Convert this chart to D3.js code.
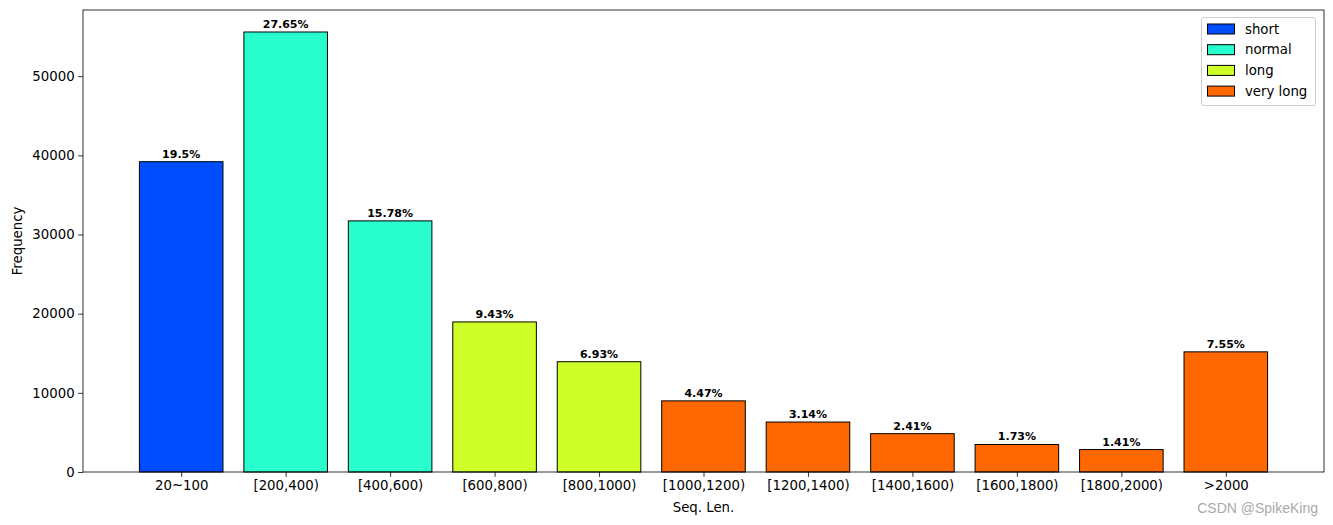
<!DOCTYPE html>
<html><head><meta charset="utf-8">
<script src="https://cdn.jsdelivr.net/npm/d3@7"></script>
<style>body{margin:0;background:#fff}svg{display:block;font-family:"DejaVu Sans",sans-serif}</style>
</head><body>
<svg id="c" width="1333" height="525"></svg>
<script>
const categories = ["20~100","[200,400)","[400,600)","[600,800)","[800,1000)","[1000,1200)","[1200,1400)","[1400,1600)","[1600,1800)","[1800,2000)",">2000"];
const values = [39195,55577,31718,18954,13929,8985,6311,4844,3477,2834,15176];
const percents = ["19.5%","27.65%","15.78%","9.43%","6.93%","4.47%","3.14%","2.41%","1.73%","1.41%","7.55%"];
const groups = ["short","normal","normal","long","long","very long","very long","very long","very long","very long","very long"];
const legendLabels = ["short","normal","long","very long"];
const legendColors = ["#004cff","#29ffce","#ceff29","#ff6800"];
const yTicks = [0,10000,20000,30000,40000,50000];

const svg = d3.select("#c");
const L=83,R=1324,T=10,B=472;
const color = d3.scaleOrdinal().domain(legendLabels).range(legendColors);
const n = categories.length;
const span = (n-1)+0.8, m = 0.05*span;
const x = d3.scaleLinear().domain([-0.4-m, n-1+0.4+m]).range([L,R]);
const ymax = d3.max(values)*1.05;
const y = d3.scaleLinear().domain([0,ymax]).range([B,T]);
const bw = x(0.8)-x(0);

svg.append("g").selectAll("rect").data(values).join("rect")
  .attr("x",(d,i)=>x(i)-bw/2).attr("y",d=>y(d))
  .attr("width",bw).attr("height",d=>B-y(d))
  .attr("fill",(d,i)=>color(groups[i])).attr("stroke","#000").attr("stroke-width",1);

svg.append("g").selectAll("text").data(values).join("text")
  .attr("x",(d,i)=>x(i)).attr("y",d=>y(d)-4)
  .attr("text-anchor","middle").attr("font-size","11px").attr("font-weight","bold")
  .text((d,i)=>percents[i]);

const xa = svg.append("g").attr("transform",`translate(0,${B})`)
  .call(d3.axisBottom(x).tickValues(d3.range(n)).tickFormat(i=>categories[i]).tickSize(4.9).tickPadding(3.5));
const ya = svg.append("g").attr("transform",`translate(${L},0)`)
  .call(d3.axisLeft(y).tickValues(yTicks).tickFormat(d3.format("d")).tickSize(4.9).tickPadding(3.5));
[xa,ya].forEach(a=>{a.selectAll("text").attr("font-size","13.3px").attr("fill","#000").attr("font-family","DejaVu Sans");
  a.selectAll("line").attr("stroke","#000").attr("stroke-width",0.8);a.select(".domain").remove();});
xa.selectAll("text").attr("dy","0.71em");

svg.append("rect").attr("x",L).attr("y",T).attr("width",R-L).attr("height",B-T)
  .attr("fill","none").attr("stroke","#000").attr("stroke-width",0.8);

svg.append("text").attr("x",(L+R)/2).attr("y",512).attr("text-anchor","middle").attr("font-size","13.3px").text("Seq. Len.");
svg.append("text").attr("transform","translate(22,241) rotate(-90)").attr("text-anchor","middle").attr("font-size","13.3px").text("Frequency");

const lg = svg.append("g");
lg.append("rect").attr("x",1201.5).attr("y",17.5).attr("width",114).attr("height",88).attr("rx",2.5)
  .attr("fill","#fff").attr("fill-opacity",0.8).attr("stroke","#ccc").attr("stroke-width",1);
legendLabels.forEach((l,i)=>{
  const yy = 29 + i*20.7;
  lg.append("rect").attr("x",1207.5).attr("y",yy-5).attr("width",27).attr("height",10)
    .attr("fill",legendColors[i]).attr("stroke","#000").attr("stroke-width",1);
  lg.append("text").attr("x",1245).attr("y",yy).attr("dy","0.35em").attr("font-size","13.3px").text(l);
});

svg.append("text").attr("x",1318).attr("y",513).attr("text-anchor","end").attr("font-size","14px")
  .attr("fill","#aaa").attr("font-family","Liberation Sans, Arial, sans-serif").text("CSDN @SpikeKing");
</script>
</body></html>
